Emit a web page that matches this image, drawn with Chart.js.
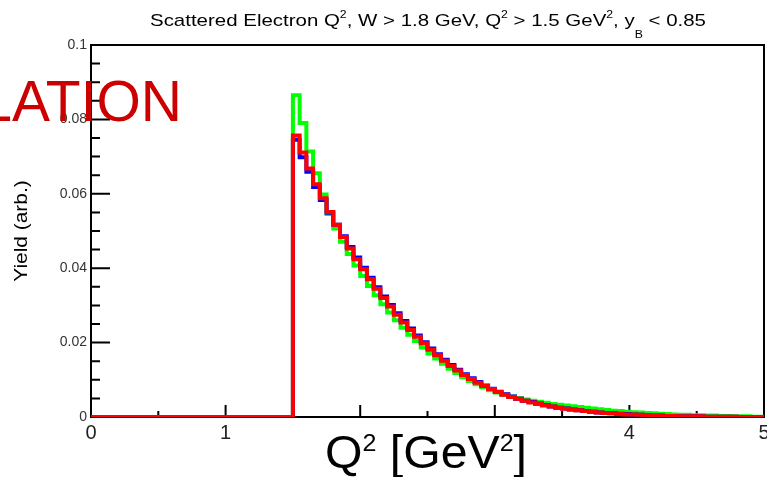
<!DOCTYPE html>
<html>
<head>
<meta charset="utf-8">
<title>Scattered Electron Q2</title>
<script src="https://cdn.jsdelivr.net/npm/chart.js@4.4.0/dist/chart.umd.min.js"></script>
<style>
  html, body { margin: 0; padding: 0; background: #fff; overflow: hidden; }
</style>
</head>
<body>
<canvas id="q2Chart" width="767" height="477"></canvas>
<script>
// Histogram binning: 100 bins of 0.05 GeV^2 between 0 and 5
const xMin = 0;
const xMax = 5;
const binWidth = 0.05;
const nBins = 100;
const firstFilledBin = 30; // bins below Q2 = 1.5 are empty (cut)

// Yields per bin, starting at Q2 = 1.50
const yieldRed = [
  0.0757, 0.0711, 0.0668, 0.0626, 0.0588, 0.0551, 0.0517, 0.0484, 0.0453, 0.0424,
  0.0397, 0.0370, 0.0345, 0.0320, 0.0297, 0.0275, 0.0254, 0.0234, 0.0216, 0.0198,
  0.0181, 0.0166, 0.0151, 0.0137, 0.0125, 0.0113, 0.0102, 0.0092, 0.0083, 0.0075,
  0.0067, 0.0060, 0.0054, 0.0049, 0.0044, 0.0039, 0.0035, 0.0031, 0.0028, 0.0025,
  0.0022, 0.0020, 0.0018, 0.0016, 0.0014, 0.0012, 0.0011, 0.0010, 0.0008, 0.0007,
  0.0007, 0.0006, 0.0005, 0.0004, 0.0004, 0.0003, 0.0003, 0.0002, 0.0002, 0.0002,
  0.0002, 0.0001, 0.0001, 0.0001, 0.0001, 0.0001, 0.0000, 0.0000, 0.0000, 0.0000
];
const yieldGreen = [
  0.0865, 0.0790, 0.0714, 0.0655, 0.0598, 0.0546, 0.0507, 0.0471, 0.0438, 0.0407,
  0.0379, 0.0352, 0.0327, 0.0303, 0.0281, 0.0260, 0.0240, 0.0221, 0.0204, 0.0187,
  0.0171, 0.0157, 0.0143, 0.0130, 0.0118, 0.0107, 0.0097, 0.0088, 0.0080, 0.0072,
  0.0066, 0.0060, 0.0055, 0.0051, 0.0047, 0.0044, 0.0041, 0.0038, 0.0035, 0.0033,
  0.0031, 0.0029, 0.0027, 0.0025, 0.0023, 0.0021, 0.0019, 0.0017, 0.0016, 0.0014,
  0.0013, 0.0012, 0.0011, 0.0010, 0.0009, 0.0008, 0.0007, 0.0006, 0.0006, 0.0005,
  0.0005, 0.0004, 0.0004, 0.0003, 0.0003, 0.0002, 0.0002, 0.0002, 0.0001, 0.0001
];
const yieldBlue = [
  0.0745, 0.0698, 0.0659, 0.0618, 0.0583, 0.0549, 0.0517, 0.0486, 0.0457, 0.0429,
  0.0401, 0.0374, 0.0349, 0.0324, 0.0301, 0.0279, 0.0258, 0.0238, 0.0219, 0.0201,
  0.0184, 0.0169, 0.0154, 0.0140, 0.0127, 0.0115, 0.0104, 0.0094, 0.0085, 0.0076,
  0.0068, 0.0061, 0.0055, 0.0049, 0.0044, 0.0040, 0.0036, 0.0032, 0.0028, 0.0025,
  0.0023, 0.0020, 0.0018, 0.0016, 0.0014, 0.0012, 0.0011, 0.0010, 0.0009, 0.0008,
  0.0007, 0.0006, 0.0005, 0.0004, 0.0004, 0.0003, 0.0003, 0.0002, 0.0002, 0.0002,
  0.0002, 0.0001, 0.0001, 0.0001, 0.0001, 0.0001, 0.0000, 0.0000, 0.0000, 0.0000
];

const xMajorTicks = [0, 1, 2, 3, 4, 5];
const xMinorStep = 0.5;
const yMin = 0;
const yMax = 0.1;
const yMajorStep = 0.02;
const yMinorStep = 0.005;

const FONT = "'Liberation Sans', Arial, Helvetica, sans-serif";
Chart.defaults.font.family = FONT;

// low edge of every bin
const binLow = Array.from({ length: nBins }, (_, i) => +(i * binWidth).toFixed(2));

// step-line points: one per bin low edge plus the closing edge
function histPoints(vals) {
  const pts = binLow.map((x, i) => ({
    x: x,
    y: i < firstFilledBin ? 0 : vals[i - firstFilledBin]
  }));
  pts.push({ x: xMax, y: pts[pts.length - 1].y });
  return pts;
}

function histDataset(label, vals, color) {
  return {
    label: label,
    data: histPoints(vals),
    borderColor: color,
    backgroundColor: color,
    borderWidth: 4,
    pointRadius: 0,
    stepped: true,
    fill: false,
    borderJoinStyle: 'miter',
    borderCapStyle: 'butt'
  };
}

// text with superscripts / subscripts, squeezed to a given width if asked
function drawRich(ctx, parts, x, y, size, color, align, targetWidth, opts) {
  const o = Object.assign({ supScale: 0.6, supRise: 0.45, subDrop: 0.8 }, opts || {});
  const fontFor = k => (k ? size * o.supScale : size) + 'px ' + FONT;
  const widths = parts.map(([t, k]) => { ctx.font = fontFor(k); return ctx.measureText(t).width; });
  const total = widths.reduce((a, b) => a + b, 0);
  const sx = targetWidth ? targetWidth / total : 1;
  ctx.save();
  ctx.translate(x, y);
  ctx.scale(sx, 1);
  ctx.fillStyle = color;
  ctx.textBaseline = 'alphabetic';
  ctx.textAlign = 'left';
  let cx = align === 'center' ? -total / 2 : (align === 'right' ? -total : 0);
  parts.forEach(([t, k], i) => {
    ctx.font = fontFor(k);
    const dy = k === 'sup' ? -size * o.supRise : (k === 'sub' ? size * o.subDrop : 0);
    ctx.fillText(t, cx, dy);
    cx += widths[i];
  });
  ctx.restore();
}

// frame and inward ROOT-style tick marks
const framePlugin = {
  id: 'frame',
  beforeDatasetsDraw(chart) {
    const { ctx, chartArea: a, scales: { x, y } } = chart;
    ctx.save();
    ctx.strokeStyle = '#000';
    ctx.lineWidth = 2;
    ctx.strokeRect(a.left, a.top, a.right - a.left, a.bottom - a.top);
    ctx.beginPath();
    for (let v = xMin; v <= xMax + 1e-9; v += xMinorStep) {
      const px = x.getPixelForValue(v);
      const major = xMajorTicks.some(t => Math.abs(t - v) < 1e-9);
      ctx.moveTo(px, a.bottom);
      ctx.lineTo(px, a.bottom - (major ? 12 : 6));
    }
    for (let v = yMin; v <= yMax + 1e-9; v += yMinorStep) {
      const py = y.getPixelForValue(v);
      const major = Math.abs(v / yMajorStep - Math.round(v / yMajorStep)) < 1e-6;
      ctx.moveTo(a.left, py);
      ctx.lineTo(a.left + (major ? 19 : 9), py);
    }
    ctx.stroke();
    ctx.restore();
  },
  afterDraw(chart) {
    const { ctx } = chart;

    // plot title
    drawRich(ctx, [
      ['Scattered Electron Q'], ['2', 'sup'], [', W > 1.8 GeV, Q'], ['2', 'sup'],
      [' > 1.5 GeV'], ['2', 'sup'], [', y'], ['B', 'sub'], [' < 0.85']
    ], 428, 26, 17, '#000', 'center', 556, { subDrop: 0.7 });

    // y axis title
    ctx.save();
    ctx.translate(27, 231);
    ctx.rotate(-Math.PI / 2);
    ctx.scale(1.16, 1);
    ctx.font = '18px ' + FONT;
    ctx.fillStyle = '#000';
    ctx.textAlign = 'center';
    ctx.textBaseline = 'alphabetic';
    ctx.fillText('Yield (arb.)', 0, 0);
    ctx.restore();

    // large x axis title on a white box
    ctx.save();
    ctx.fillStyle = '#fff';
    ctx.fillRect(318, 421, 218, 56);
    ctx.restore();
    drawRich(ctx, [['Q'], ['2', 'sup'], [' [GeV'], ['2', 'sup'], [']']],
      426, 468, 46, '#000', 'center', 202, { supScale: 0.52, supRise: 0.37 });

    // red overlay word
    ctx.save();
    ctx.font = '57px ' + FONT;
    ctx.fillStyle = '#cc0000';
    ctx.textAlign = 'right';
    ctx.textBaseline = 'alphabetic';
    ctx.fillText('SIMULATION', 182, 121);
    ctx.restore();
  }
};

const chart = new Chart(document.getElementById('q2Chart'), {
  type: 'line',
  data: {
    datasets: [
      histDataset('red', yieldRed, '#ff0000'),
      histDataset('blue', yieldBlue, '#0000ff'),
      histDataset('green', yieldGreen, '#00ff00')
    ]
  },
  options: {
    responsive: false,
    devicePixelRatio: 1,
    animation: false,
    layout: { padding: { top: 45, right: 3, left: 0, bottom: 0 } },
    plugins: {
      legend: { display: false },
      tooltip: { enabled: false },
      title: { display: false }
    },
    scales: {
      x: {
        type: 'linear',
        min: xMin,
        max: xMax,
        grid: { display: false },
        border: { display: false },
        ticks: {
          stepSize: 1,
          autoSkip: false,
          maxRotation: 0,
          padding: -4,
          color: '#222',
          font: { size: 20 },
          callback: v => String(v)
        },
        afterFit(scale) {
          scale.height = 60;
          scale.paddingLeft = 0;
          scale.paddingRight = 0;
        }
      },
      y: {
        type: 'linear',
        min: yMin,
        max: yMax,
        grid: { display: false },
        border: { display: false },
        ticks: {
          stepSize: yMajorStep,
          padding: -4,
          color: '#333',
          font: { size: 14 },
          callback: v => String(+v.toFixed(2))
        },
        afterFit(scale) {
          scale.width = 91;
          scale.paddingTop = 0;
          scale.paddingBottom = 0;
        }
      }
    }
  },
  plugins: [framePlugin]
});
</script>
</body>
</html>
